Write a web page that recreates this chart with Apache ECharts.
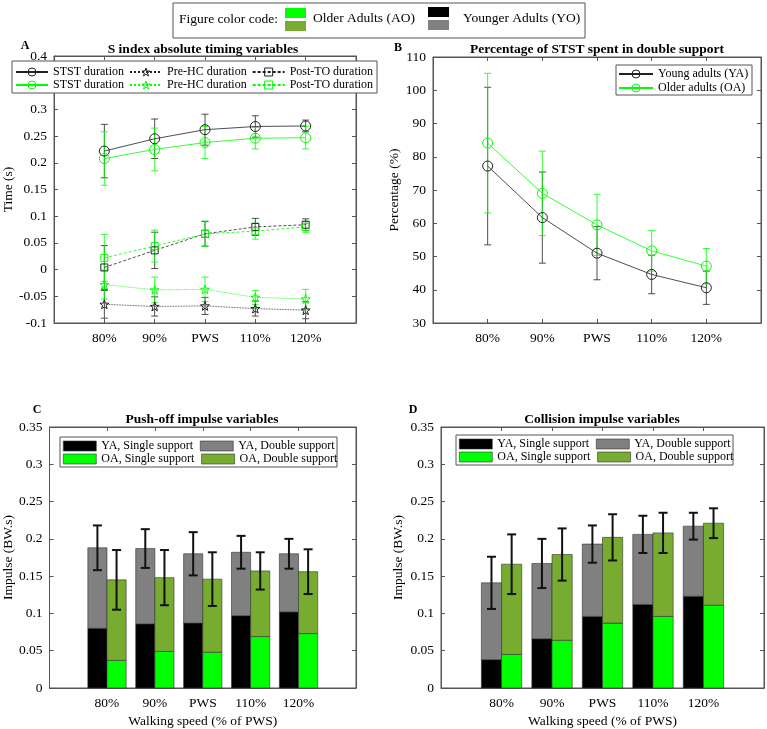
<!DOCTYPE html>
<html>
<head>
<meta charset="utf-8">
<script src="https://cdn.jsdelivr.net/npm/echarts@6/dist/echarts.min.js"></script>
<style>
html, body { margin: 0; background: #fff; }
#main { width: 767px; height: 729px; }
</style>
</head>
<body>
<div id="main"></div>
<script>
var speeds = ['80%', '90%', 'PWS', '110%', '120%'];

// A - S index timing (s), mean and SD
var yaStst = [0.222, 0.245, 0.262, 0.268, 0.269];
var yaStstSd = [0.050, 0.037, 0.029, 0.020, 0.011];
var oaStst = [0.208, 0.225, 0.238, 0.246, 0.247];
var oaStstSd = [0.050, 0.040, 0.030, 0.020, 0.021];
var yaPreHc = [-0.065, -0.069, -0.068, -0.073, -0.076];
var yaPreHcSd = [0.026, 0.018, 0.016, 0.014, 0.016];
var oaPreHc = [-0.028, -0.038, -0.037, -0.052, -0.055];
var oaPreHcSd = [0.027, 0.024, 0.023, 0.013, 0.018];
var yaPostTo = [0.004, 0.036, 0.067, 0.080, 0.084];
var yaPostToSd = [0.041, 0.034, 0.023, 0.016, 0.011];
var oaPostTo = [0.022, 0.044, 0.067, 0.072, 0.080];
var oaPostToSd = [0.044, 0.030, 0.024, 0.015, 0.010];

// B - % of STST in double support
var yaPct = [77.2, 61.7, 51.0, 44.6, 40.6];
var yaPctSd = [23.7, 13.7, 8.0, 5.8, 5.0];
var oaPct = [84.1, 69.0, 59.5, 51.7, 47.1];
var oaPctSd = [21.0, 12.7, 9.2, 6.1, 5.3];

// C - push-off impulse (BW.s)
var pushYaSingle = [0.080, 0.086, 0.087, 0.097, 0.102];
var pushYaDouble = [0.108, 0.101, 0.093, 0.085, 0.078];
var pushYaSd = [0.030, 0.026, 0.029, 0.022, 0.020];
var pushOaSingle = [0.037, 0.049, 0.048, 0.069, 0.073];
var pushOaDouble = [0.108, 0.099, 0.098, 0.088, 0.083];
var pushOaSd = [0.040, 0.037, 0.036, 0.025, 0.030];

// D - collision impulse (BW.s)
var colYaSingle = [0.038, 0.066, 0.096, 0.112, 0.123];
var colYaDouble = [0.103, 0.101, 0.097, 0.094, 0.094];
var colYaSd = [0.035, 0.033, 0.025, 0.025, 0.018];
var colOaSingle = [0.045, 0.064, 0.087, 0.096, 0.111];
var colOaDouble = [0.121, 0.115, 0.115, 0.112, 0.110];
var colOaSd = [0.040, 0.035, 0.031, 0.027, 0.020];

var FONT = '"Liberation Serif", "Times New Roman", serif';
var AXIS = '#555';
var DARK = '#222';
var GREEN = '#00ff00';
var OLIVE = '#77ac30';
var GRAY = '#808080';
var STAR = 'path://M0,-10L2.35,-3.24L9.51,-3.09L3.8,1.24L5.88,8.09L0,4L-5.88,8.09L-3.8,1.24L-9.51,-3.09L-2.35,-3.24Z';

var grids = [
    {left: 50, top: 56, width: 306, height: 267},
    {left: 433, top: 57, width: 328, height: 266},
    {left: 48, top: 427, width: 308, height: 265},
    {left: 441, top: 427, width: 323, height: 265}
];

function pts(v) { return v.map(function (d, i) { return [i + 1, d]; }); }
function withSd(v, sd) { return v.map(function (d, i) { return [i + 1, d, sd[i]]; }); }
function sumSd(a, b, sd) { return a.map(function (d, i) { return [i + 1, d + b[i], sd[i]]; }); }
function span(lo, hi) { return hi.map(function (d, i) { return [i + 1, lo ? lo[i] : 0, (lo ? lo[i] : 0) + d]; }); }

var xAxes = [], yAxes = [];
function addX(g, min, max, name) {
    var base = {gridIndex: g, type: 'value', min: min, max: max, splitLine: {show: false},
        axisLine: {onZero: false, lineStyle: {color: AXIS, width: 1}}};
    xAxes.push(Object.assign({}, base, {
        position: 'bottom',
        axisTick: {inside: true, length: 4, customValues: [1, 2, 3, 4, 5], lineStyle: {color: AXIS}},
        axisLabel: {customValues: [1, 2, 3, 4, 5], color: '#000', fontFamily: FONT, fontSize: 13.5, margin: 8,
            formatter: function (v) { return speeds[Math.round(v) - 1] || ''; }},
        name: name || '', nameLocation: 'middle', nameGap: 26,
        nameTextStyle: {color: '#000', fontFamily: FONT, fontSize: 13.5}
    }));
    xAxes.push(Object.assign({}, base, {
        position: 'top',
        axisTick: {inside: true, length: 4, customValues: [1, 2, 3, 4, 5], lineStyle: {color: AXIS}},
        axisLabel: {show: false}
    }));
}
function addY(g, min, max, interval, name, gap) {
    var base = {gridIndex: g, type: 'value', min: min, max: max, interval: interval, splitLine: {show: false},
        axisLine: {show: true, onZero: false, lineStyle: {color: AXIS, width: 1}},
        axisTick: {inside: true, length: 4, lineStyle: {color: AXIS}}};
    yAxes.push(Object.assign({}, base, {
        position: 'left',
        axisLabel: {color: '#000', fontFamily: FONT, fontSize: 13.5, margin: 7},
        name: name, nameLocation: 'middle', nameGap: gap,
        nameTextStyle: {color: '#000', fontFamily: FONT, fontSize: 13.5}
    }));
    yAxes.push(Object.assign({}, base, {position: 'right', axisLabel: {show: false}}));
}
addX(0, 0, 6); addY(0, -0.1, 0.4, 0.05, 'Time (s)', 29);
addX(1, 0, 6); addY(1, 30, 110, 10, 'Percentage (%)', 26);
addX(2, -0.2, 6.2, 'Walking speed (% of PWS)'); addY(2, 0, 0.35, 0.05, 'Impulse (BW.s)', 27);
addX(3, -0.2, 6.2, 'Walking speed (% of PWS)'); addY(3, 0, 0.35, 0.05, 'Impulse (BW.s)', 36);

function errorBar(color, width, cap, dx) {
    return function (params, api) {
        var x = api.value(0) + dx, m = api.value(1), s = api.value(2);
        var top = api.coord([x, m + s]), bot = api.coord([x, m - s]);
        var st = {stroke: color, lineWidth: width};
        return {type: 'group', children: [
            {type: 'line', shape: {x1: top[0], y1: top[1], x2: bot[0], y2: bot[1]}, style: st},
            {type: 'line', shape: {x1: top[0] - cap, y1: top[1], x2: top[0] + cap, y2: top[1]}, style: st},
            {type: 'line', shape: {x1: bot[0] - cap, y1: bot[1], x2: bot[0] + cap, y2: bot[1]}, style: st}
        ]};
    };
}
function errSeries(g, data, color, width, cap, dx) {
    return {type: 'custom', xAxisIndex: g * 2, yAxisIndex: g * 2, data: data, z: 3, silent: true,
        renderItem: errorBar(color, width, cap, dx || 0)};
}
function lineSeries(g, name, data, color, symbol, size, type) {
    return {type: 'line', name: name, xAxisIndex: g * 2, yAxisIndex: g * 2, data: data,
        symbol: symbol, symbolSize: size, z: 4, silent: true,
        lineStyle: {color: color, width: 0.8, type: type},
        itemStyle: {color: 'rgba(0,0,0,0)', borderColor: color, borderWidth: 1}};
}
// bars drawn as rectangles between two values, 0.4 x-units wide, shifted by dx
function barSeries(g, name, data, color, dx) {
    return {type: 'custom', name: name, xAxisIndex: g * 2, yAxisIndex: g * 2, data: data,
        encode: {x: 0, y: [1, 2]}, z: 2, silent: true,
        itemStyle: {color: color, borderColor: '#333', borderWidth: 0.6},
        renderItem: function (params, api) {
            var x = api.value(0) + dx;
            var p0 = api.coord([x - 0.2, api.value(2)]);
            var p1 = api.coord([x + 0.2, api.value(1)]);
            return {type: 'rect', shape: {x: p0[0], y: p0[1], width: p1[0] - p0[0], height: p1[1] - p0[1]},
                style: {fill: color, stroke: '#333', lineWidth: 0.6}};
        }};
}

var series = [
    lineSeries(0, 'YA|STST duration', pts(yaStst), DARK, 'circle', 10, 'solid'),
    lineSeries(0, 'YA|Pre-HC duration', pts(yaPreHc), DARK, STAR, 9, 'dotted'),
    lineSeries(0, 'YA|Post-TO duration', pts(yaPostTo), DARK, 'rect', 7, [3, 2]),
    lineSeries(0, 'OA|STST duration', pts(oaStst), GREEN, 'circle', 10, 'solid'),
    lineSeries(0, 'OA|Pre-HC duration', pts(oaPreHc), GREEN, STAR, 9, 'dotted'),
    lineSeries(0, 'OA|Post-TO duration', pts(oaPostTo), GREEN, 'rect', 7, [3, 2]),
    errSeries(0, withSd(yaStst, yaStstSd), DARK, 0.8, 3.5),
    errSeries(0, withSd(yaPreHc, yaPreHcSd), DARK, 0.8, 3.5),
    errSeries(0, withSd(yaPostTo, yaPostToSd), DARK, 0.8, 3.5),
    errSeries(0, withSd(oaStst, oaStstSd), GREEN, 0.8, 3.5),
    errSeries(0, withSd(oaPreHc, oaPreHcSd), GREEN, 0.8, 3.5),
    errSeries(0, withSd(oaPostTo, oaPostToSd), GREEN, 0.8, 3.5),

    lineSeries(1, 'Young adults (YA)', pts(yaPct), DARK, 'circle', 10, 'solid'),
    lineSeries(1, 'Older adults (OA)', pts(oaPct), GREEN, 'circle', 10, 'solid'),
    errSeries(1, withSd(yaPct, yaPctSd), DARK, 0.8, 3.5),
    errSeries(1, withSd(oaPct, oaPctSd), GREEN, 0.8, 3.5),

    barSeries(2, 'YA, Single support', span(null, pushYaSingle), '#000', -0.2),
    barSeries(2, 'YA, Double support', span(pushYaSingle, pushYaDouble), GRAY, -0.2),
    barSeries(2, 'OA, Single support', span(null, pushOaSingle), GREEN, 0.2),
    barSeries(2, 'OA, Double support', span(pushOaSingle, pushOaDouble), OLIVE, 0.2),
    errSeries(2, sumSd(pushYaSingle, pushYaDouble, pushYaSd), '#111', 2, 4.5, -0.2),
    errSeries(2, sumSd(pushOaSingle, pushOaDouble, pushOaSd), '#111', 2, 4.5, 0.2),

    barSeries(3, 'YA, Single support', span(null, colYaSingle), '#000', -0.2),
    barSeries(3, 'YA, Double support', span(colYaSingle, colYaDouble), GRAY, -0.2),
    barSeries(3, 'OA, Single support', span(null, colOaSingle), GREEN, 0.2),
    barSeries(3, 'OA, Double support', span(colOaSingle, colOaDouble), OLIVE, 0.2),
    errSeries(3, sumSd(colYaSingle, colYaDouble, colYaSd), '#111', 2, 4.5, -0.2),
    errSeries(3, sumSd(colOaSingle, colOaDouble, colOaSd), '#111', 2, 4.5, 0.2)
];

function legendRow(names, left, top, w, bars) {
    var lg = {data: names, left: left, top: top, orient: 'horizontal', padding: 0, z: 6,
        itemWidth: w, itemHeight: 10, itemGap: 5, selectedMode: false,
        formatter: function (n) { return n.indexOf('|') > -1 ? n.split('|')[1] : n; },
        textStyle: {color: '#000', fontFamily: FONT, fontSize: 12, lineHeight: 14}};
    if (bars) {
        lg.icon = 'rect';
        lg.itemGap = 7;
        lg.itemStyle = {borderColor: '#333', borderWidth: 0.6};
    } else {
        lg.itemStyle = {color: 'rgba(0,0,0,0)', borderWidth: 1};
    }
    return lg;
}
var legends = [
    legendRow(['YA|STST duration', 'YA|Pre-HC duration', 'YA|Post-TO duration'], 15, 65, 32),
    legendRow(['OA|STST duration', 'OA|Pre-HC duration', 'OA|Post-TO duration'], 15, 78, 32),
    legendRow(['Young adults (YA)'], 618, 67, 34),
    legendRow(['Older adults (OA)'], 618, 81, 34),
    legendRow(['YA, Single support', 'YA, Double support'], 63, 439, 33, true),
    legendRow(['OA, Single support', 'OA, Double support'], 63, 452, 33, true),
    legendRow(['YA, Single support', 'YA, Double support'], 459, 437, 33, true),
    legendRow(['OA, Single support', 'OA, Double support'], 459, 450, 33, true)
];

function box(x, y, w, h) {
    return {type: 'rect', z: 5, shape: {x: x, y: y, width: w, height: h},
        style: {fill: '#fff', stroke: AXIS, lineWidth: 1}};
}
function label(text, x, y, bold, size, align) {
    return {type: 'text', z: 6, x: x, y: y,
        style: {text: text, fill: '#000', font: (bold ? 'bold ' : '') + size + 'px ' + FONT,
            textAlign: align || 'center', textVerticalAlign: 'middle'}};
}
function swatch(x, y, color) {
    return {type: 'rect', z: 6, shape: {x: x, y: y, width: 21, height: 10}, style: {fill: color}};
}

var graphics = [
    box(173, 3, 412, 35),
    label('Figure color code:', 179, 19, false, 13.5, 'left'),
    swatch(285, 8, GREEN), swatch(285, 21, OLIVE),
    label('Older Adults (AO)', 313, 18, false, 13.5, 'left'),
    swatch(428, 7, '#000'), swatch(428, 20, GRAY),
    label('Younger Adults (YO)', 463, 18, false, 13.5, 'left'),
    box(12, 61, 365, 32),
    box(616, 65, 136, 30),
    box(60, 437, 277, 30),
    box(456, 435, 277, 30),
    label('A', 25, 46, true, 12),
    label('S index absolute timing variables', 203, 50, true, 13.5),
    label('B', 398, 48, true, 12),
    label('Percentage of STST spent in double support', 597, 50, true, 13.5),
    label('C', 37, 410, true, 12),
    label('Push-off impulse variables', 202, 420, true, 13.5),
    label('D', 413, 410, true, 12),
    label('Collision impulse variables', 602, 420, true, 13.5)
];

var chart = echarts.init(document.getElementById('main'));
chart.setOption({
    animation: false,
    backgroundColor: '#fff',
    grid: grids.map(function (g) {
        return Object.assign({show: true, borderColor: AXIS, borderWidth: 1, containLabel: false}, g);
    }),
    xAxis: xAxes,
    yAxis: yAxes,
    legend: legends,
    graphic: graphics,
    series: series
});
</script>
</body>
</html>
